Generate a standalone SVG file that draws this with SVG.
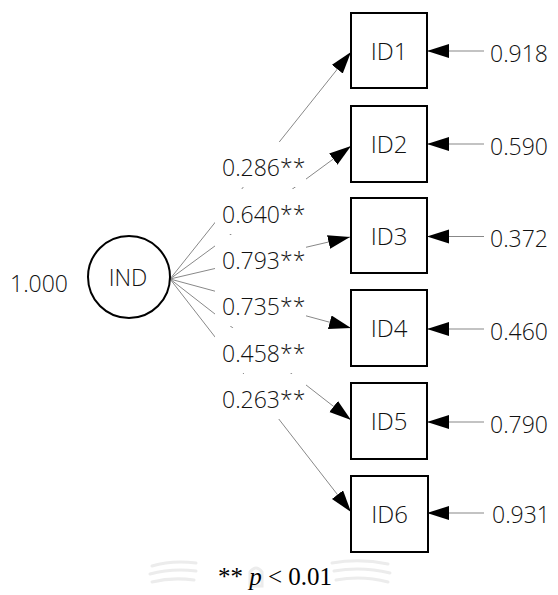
<svg xmlns="http://www.w3.org/2000/svg" width="558" height="595" viewBox="0 0 558 595">
  <defs>
    <marker id="head" markerUnits="userSpaceOnUse" markerWidth="23" markerHeight="15" refX="22" refY="7" orient="auto">
      <path d="M0,0 L22,7 L0,14 Z" fill="#000"/>
    </marker>
    <style>
      .lbl { font-family: "Open Sans", "Noto Sans", "DejaVu Sans", sans-serif; font-weight: 300; font-size: 23px; fill: #111; }
      .big { font-size: 24px; }
      .mid { text-anchor: middle; }
      .box { fill: #fff; stroke: #000; stroke-width: 2; }
      .path { stroke: #888; stroke-width: 1; fill: none; marker-end: url(#head); }
      .err { stroke: #888; stroke-width: 1.2; fill: none; marker-end: url(#head); }
      .pad { fill: #fff; }
      .mark { fill: none; stroke: #ececec; stroke-width: 3; stroke-linecap: round; }
    </style>
  </defs>
  <rect width="558" height="595" fill="#fff"/>

  <!-- faint emblem behind the footnote -->
  <g id="emblem">
    <path class="mark" d="M152,566 Q172,560 196,563"/>
    <path class="mark" d="M150,574 Q172,568 196,571"/>
    <path class="mark" d="M152,582 Q172,577 194,580"/>
    <path class="mark" d="M250,572 q6,-8 12,0 v14 h-12 Z"/>
    <path class="mark" d="M332,563 Q360,558 388,564"/>
    <path class="mark" d="M334,571 Q362,566 390,573"/>
    <path class="mark" d="M336,580 Q362,575 388,582"/>
  </g>

  <!-- loadings from IND to its indicators -->
  <g id="connectors">
    <line class="path" x1="170" y1="279" x2="351" y2="52"/>
    <line class="path" x1="170" y1="279" x2="351" y2="146"/>
    <line class="path" x1="170" y1="279" x2="350" y2="237"/>
    <line class="path" x1="170" y1="279" x2="351" y2="328"/>
    <line class="path" x1="170" y1="279" x2="351" y2="420"/>
    <line class="path" x1="170" y1="279" x2="351" y2="512"/>
    <!-- error terms -->
    <line class="err" x1="484" y1="51" x2="427" y2="51"/>
    <line class="err" x1="484" y1="144" x2="427" y2="144"/>
    <line class="err" x1="484" y1="236.5" x2="427" y2="236.5"/>
    <line class="err" x1="484" y1="329" x2="427" y2="329"/>
    <line class="err" x1="484" y1="422" x2="427" y2="422"/>
    <line class="err" x1="484" y1="513" x2="427" y2="513"/>
  </g>

  <!-- loading labels on white pads -->
  <g id="loadings">
    <rect class="pad" x="215" y="142" width="91" height="45"/>
    <rect class="pad" x="215" y="189" width="91" height="45"/>
    <rect class="pad" x="215" y="235" width="91" height="45"/>
    <rect class="pad" x="215" y="281" width="91" height="45"/>
    <rect class="pad" x="215" y="328" width="91" height="45"/>
    <rect class="pad" x="215" y="374" width="91" height="45"/>
    <text class="lbl" x="222" y="176">0.286**</text>
    <text class="lbl" x="222" y="223">0.640**</text>
    <text class="lbl" x="222" y="269">0.793**</text>
    <text class="lbl" x="222" y="315">0.735**</text>
    <text class="lbl" x="222" y="362">0.458**</text>
    <text class="lbl" x="222" y="408">0.263**</text>
  </g>

  <g id="IND">
    <circle cx="129" cy="277" r="41" fill="#fff" stroke="#000" stroke-width="2"/>
    <text class="lbl mid" x="128" y="286">IND</text>
    <text class="lbl" x="10" y="292">1.000</text>
  </g>

  <g id="ID1">
    <rect class="box" x="351" y="13" width="76" height="75"/>
    <text class="lbl big mid" x="389" y="60">ID1</text>
    <text class="lbl" x="490" y="62">0.918</text>
  </g>
  <g id="ID2">
    <rect class="box" x="351" y="106" width="76" height="76"/>
    <text class="lbl big mid" x="389" y="153">ID2</text>
    <text class="lbl" x="490" y="155">0.590</text>
  </g>
  <g id="ID3">
    <rect class="box" x="351" y="198" width="76" height="75"/>
    <text class="lbl big mid" x="389" y="245">ID3</text>
    <text class="lbl" x="490" y="247">0.372</text>
  </g>
  <g id="ID4">
    <rect class="box" x="351" y="290" width="76" height="76"/>
    <text class="lbl big mid" x="389" y="337">ID4</text>
    <text class="lbl" x="490" y="340">0.460</text>
  </g>
  <g id="ID5">
    <rect class="box" x="351" y="383" width="76" height="76"/>
    <text class="lbl big mid" x="389" y="430">ID5</text>
    <text class="lbl" x="490" y="433">0.790</text>
  </g>
  <g id="ID6">
    <rect class="box" x="351" y="476" width="77" height="76"/>
    <text class="lbl big mid" x="389.5" y="523">ID6</text>
    <text class="lbl" x="492" y="523">0.931</text>
  </g>

  <text x="218" y="585" font-family="'Liberation Serif', 'Times New Roman', serif" font-size="25" fill="#000">** <tspan font-style="italic">p</tspan> &lt; 0.01</text>
</svg>
